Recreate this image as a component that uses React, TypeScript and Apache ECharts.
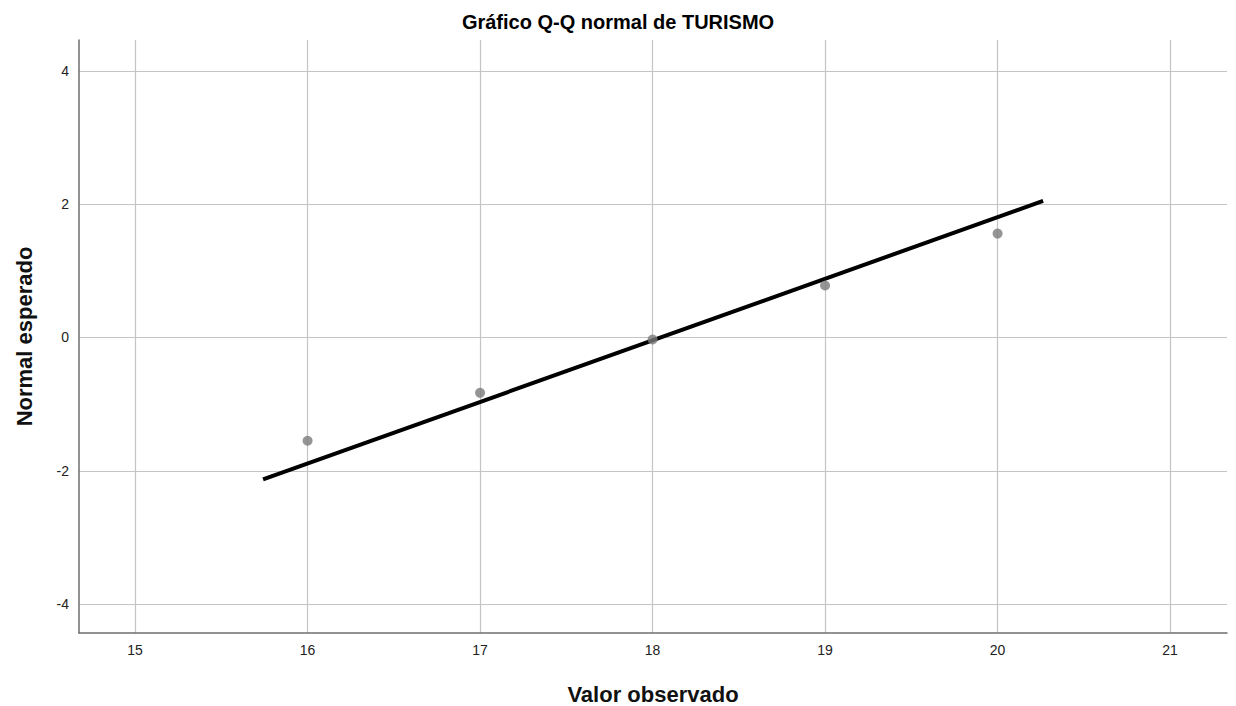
import React, { useEffect, useRef } from "react";
import * as echarts from "echarts";

const titleText = "Gráfico Q-Q normal de TURISMO";
const xName = "Valor observado";
const yName = "Normal esperado";
const observed = [16, 17, 18, 19, 20];
const expectedNormal = [-1.55, -0.83, -0.03, 0.78, 1.56];
const lineX = [15.742, 20.264];
const lineY = [-2.13, 2.05];
const xRange = [14.675, 21.33];
const yRange = [-4.435, 4.465];

export default function App() {
  const ref = useRef<HTMLDivElement>(null);
  useEffect(() => {
    document.body.style.margin = "0";
    const chart = echarts.init(ref.current!, null, { renderer: "svg" });
    const font = "'Liberation Sans', Arial, sans-serif";
    chart.setOption({
      animation: false,
      backgroundColor: "#ffffff",
      title: {
        text: titleText,
        left: "center",
        top: 7,
        textStyle: { fontFamily: font, fontSize: 20, fontWeight: "bold", color: "#000" },
      },
      grid: { left: 79, right: 9, top: 40, bottom: 73, containLabel: false, outerBoundsMode: "none" },
      xAxis: {
        type: "value",
        min: xRange[0],
        max: xRange[1],
        minInterval: 1,
        maxInterval: 1,
        name: xName,
        nameLocation: "middle",
        nameGap: 50,
        nameTextStyle: { fontFamily: font, fontSize: 22, fontWeight: "bold", color: "#111" },
        axisLine: { show: true, onZero: false, lineStyle: { color: "#6e6e6e", width: 1.5 } },
        axisTick: { show: false },
        axisLabel: {
          showMinLabel: false,
          showMaxLabel: false,
          margin: 10,
          fontFamily: font,
          fontSize: 14,
          color: "#222",
        },
        splitLine: {
          show: true,
          showMinLine: false,
          showMaxLine: false,
          lineStyle: { color: "#c4c4c4", width: 1.2 },
        },
      },
      yAxis: {
        type: "value",
        min: yRange[0],
        max: yRange[1],
        minInterval: 2,
        maxInterval: 2,
        name: yName,
        nameLocation: "middle",
        nameGap: 44,
        nameTextStyle: { fontFamily: font, fontSize: 22, fontWeight: "bold", color: "#111" },
        axisLine: { show: true, onZero: false, lineStyle: { color: "#6e6e6e", width: 1.5 } },
        axisTick: { show: false },
        axisLabel: {
          showMinLabel: false,
          showMaxLabel: false,
          margin: 10,
          fontFamily: font,
          fontSize: 14,
          color: "#222",
        },
        splitLine: {
          show: true,
          showMinLine: false,
          showMaxLine: false,
          lineStyle: { color: "#c4c4c4", width: 1.2 },
        },
      },
      series: [
        {
          type: "line",
          data: lineX.map((x, i) => [x, lineY[i]]),
          symbol: "none",
          lineStyle: { color: "#000", width: 4 },
          z: 3,
        },
        {
          type: "scatter",
          data: observed.map((x, i) => [x, expectedNormal[i]]),
          symbolSize: 10,
          itemStyle: { color: "#7a7a7a" },
          z: 4,
        },
      ],
    });
    return () => chart.dispose();
  }, []);
  return <div ref={ref} style={{ width: 1236, height: 706 }} />;
}
